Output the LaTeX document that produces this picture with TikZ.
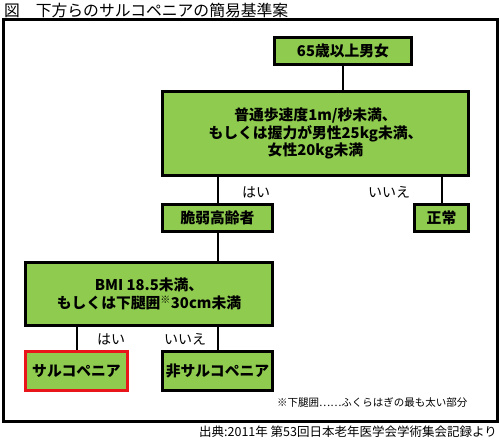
\documentclass[tikz,border=0pt]{standalone}
\usepackage{fontspec}
\newfontfamily\jp{Noto Sans CJK JP}
\definecolor{boxgreen}{HTML}{8FCB4E}
\definecolor{boxred}{HTML}{E8151B}
\begin{document}
\begin{tikzpicture}[x=1pt,y=-1pt,
  gbox/.style={draw=black,line width=3pt,fill=boxgreen,inner sep=0pt,align=center,
    font=\jp\bfseries\fontsize{14.8}{17.5}\selectfont},
  conn/.style={draw=black,line width=2pt},
  lbl/.style={font=\jp\fontsize{14}{16}\selectfont,inner sep=0pt}]
\useasboundingbox (0,0) rectangle (500,441);
\node[anchor=west,inner sep=0pt,font=\jp\fontsize{15.8}{18}\selectfont] (title) at (4,10) {図　下方らのサルコペニアの簡易基準案};
\draw[line width=3pt] (3.5,19.5) rectangle (497.5,421.5);
\node[gbox,minimum width=137pt,minimum height=27pt] (b1) at (343,51) {65歳以上男女};
\node[gbox,minimum width=306pt,minimum height=84pt] (b2) at (315.5,133.5) {普通歩速度1m/秒未満、\\もしくは握力が男性25kg未満、\\女性20kg未満};
\node[gbox,minimum width=110pt,minimum height=27pt] (b3) at (217.5,218) {脆弱高齢者};
\node[gbox,minimum width=54pt,minimum height=27pt] (b4) at (441.5,218) {正常};
\node[gbox,minimum width=247pt,minimum height=63pt] (b5) at (149,294) {BMI 18.5未満、\\もしくは下腿囲$^{\mbox{\jp\fontsize{10}{10}\selectfont ※}}$30cm未満};
\node[gbox,draw=boxred,minimum width=102pt,minimum height=39pt] (b6) at (76.5,371) {サルコペニア};
\node[gbox,minimum width=110pt,minimum height=39pt] (b7) at (217.5,371) {非サルコペニア};
\draw[conn] (b1.south) -- (b1.south |- b2.north);
\draw[conn] (b3.north |- b2.south) -- (b3.north);
\draw[conn] (b4.north |- b2.south) -- (b4.north);
\draw[conn] (b3.south) -- (b3.south |- b5.north);
\draw[conn] (b6.north |- b5.south) -- (b6.north);
\draw[conn] (b7.north |- b5.south) -- (b7.north);
\node[lbl] (y1) at (256,192) {はい};
\node[lbl] (n1) at (389,192) {いいえ};
\node[lbl] (y2) at (111,339) {はい};
\node[lbl] (n2) at (185,339) {いいえ};
\node[anchor=west,inner sep=0pt,font=\jp\fontsize{10.5}{12}\selectfont] (note) at (277,403) {※下腿囲……ふくらはぎの最も太い部分};
\node[anchor=east,inner sep=0pt,font=\jp\fontsize{12.5}{14}\selectfont] (src) at (497,432) {出典:2011年 第53回日本老年医学会学術集会記録より};
\end{tikzpicture}
\end{document}
